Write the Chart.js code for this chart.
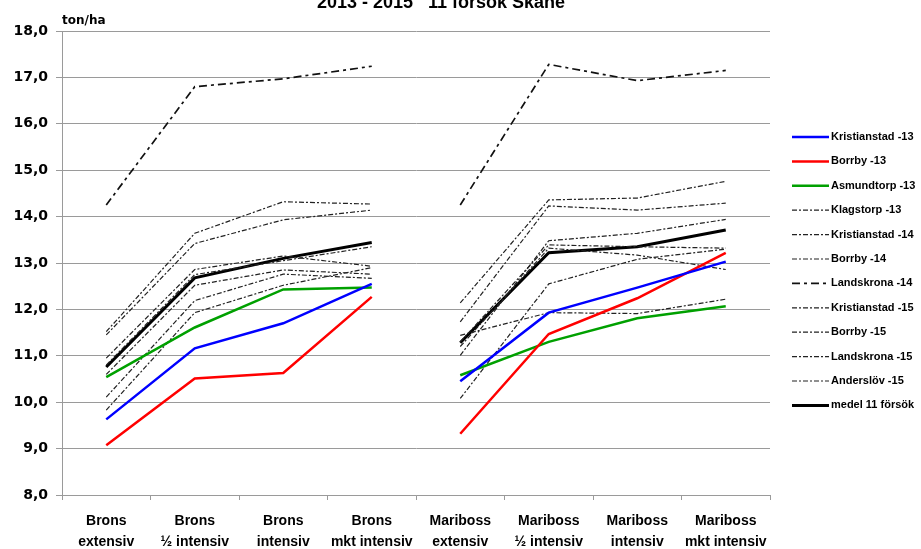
<!DOCTYPE html>
<html>
<head>
<meta charset="utf-8">
<script src="https://cdn.jsdelivr.net/npm/chart.js@4.4.0/dist/chart.umd.min.js"></script>
<style>
    html, body { margin: 0; padding: 0; background: #fff; }
    #wrap { position: relative; width: 921px; height: 549px; }
</style>
</head>
<body>
<div id="wrap"><canvas id="yieldChart"></canvas></div>
<script>
// Categories (two-line labels)
const categories = [
    ['Brons', 'extensiv'], ['Brons', '½ intensiv'], ['Brons', 'intensiv'], ['Brons', 'mkt intensiv'],
    ['Mariboss', 'extensiv'], ['Mariboss', '½ intensiv'], ['Mariboss', 'intensiv'], ['Mariboss', 'mkt intensiv']
];

// Yield, ton/ha
const kristianstad13 = [9.63, 11.16, 11.70, 12.55, 10.45, 11.93, 12.47, 13.03];
const borrby13 = [9.07, 10.51, 10.63, 12.27, 9.32, 11.47, 12.24, 13.22];
const asmundtorp13 = [10.54, 11.61, 12.43, 12.47, 10.58, 11.30, 11.81, 12.07];
const klagstorp13 = [11.52, 13.64, 14.32, 14.27, 12.14, 14.36, 14.40, 14.76];
const kristianstad14 = [11.45, 13.42, 13.93, 14.14, 11.73, 14.23, 14.14, 14.29];
const borrby14 = [10.95, 12.86, 13.15, 12.93, 11.01, 13.48, 13.64, 13.94];
const landskrona14 = [14.25, 16.80, 16.97, 17.24, 14.25, 17.28, 16.93, 17.15];
const kristianstad15 = [10.80, 12.75, 13.05, 13.35, 11.30, 13.39, 13.35, 13.32];
const borrby15 = [10.60, 12.52, 12.85, 12.76, 11.20, 13.32, 13.17, 12.86];
const landskrona15 = [10.11, 12.19, 12.76, 12.67, 10.08, 12.55, 13.08, 13.30];
const anderslov15 = [9.83, 11.93, 12.52, 12.90, 11.44, 11.93, 11.91, 12.22];
const medel = [10.76, 12.68, 13.10, 13.44, 11.28, 13.22, 13.35, 13.71];

// Y axis ticks
const yTicks = [8, 9, 10, 11, 12, 13, 14, 15, 16, 17, 18];

const chartTitle = '2013 - 2015   11 försök Skåne';
const unitLabel = 'ton/ha';

const dashStyle = [5, 2, 2, 2];

function series(label, data, color, width, dash) {
    return {
        label: label,
        data: data,
        borderColor: color,
        borderWidth: width,
        borderDash: dash || [],
        pointRadius: 0,
        tension: 0,
        fill: false,
        // no line between Brons and Mariboss
        segment: {
            borderColor: ctx => ctx.p0DataIndex === 3 ? 'rgba(0,0,0,0)' : undefined
        }
    };
}

// Title, unit text and legend drawn on the canvas
const extrasPlugin = {
    id: 'extras',
    afterDraw(chart) {
        const ctx = chart.ctx;
        ctx.save();
        ctx.fillStyle = '#000';

        ctx.font = 'bold 18px "Liberation Sans"';
        ctx.textAlign = 'center';
        ctx.textBaseline = 'alphabetic';
        ctx.fillText(chartTitle, 441, 8);

        ctx.font = 'bold 12px "DejaVu Sans"';
        ctx.textAlign = 'left';
        ctx.fillText(unitLabel, chart.chartArea.left, 24);

        // legend
        ctx.font = 'bold 11px "Liberation Sans"';
        ctx.textBaseline = 'middle';
        chart.data.datasets.forEach((ds, i) => {
            const y = 137 + i * 24.4;
            ctx.beginPath();
            ctx.strokeStyle = ds.borderColor;
            ctx.lineWidth = ds.borderWidth;
            ctx.setLineDash(ds.borderDash);
            ctx.moveTo(792, y);
            ctx.lineTo(829, y);
            ctx.stroke();
            ctx.setLineDash([]);
            ctx.fillText(ds.label, 831, y);
        });
        ctx.restore();
    }
};

new Chart(document.getElementById('yieldChart'), {
    type: 'line',
    data: {
        labels: categories,
        datasets: [
            series('Kristianstad -13', kristianstad13, '#0000ff', 2.5),
            series('Borrby -13', borrby13, '#ff0000', 2.5),
            series('Asmundtorp -13', asmundtorp13, '#00a000', 2.5),
            series('Klagstorp -13', klagstorp13, '#222', 1.2, dashStyle),
            series('Kristianstad -14', kristianstad14, '#222', 1.2, dashStyle),
            series('Borrby -14', borrby14, '#222', 1.2, dashStyle),
            series('Landskrona -14', landskrona14, '#111', 1.7, [8, 4, 3, 4]),
            series('Kristianstad -15', kristianstad15, '#222', 1.2, dashStyle),
            series('Borrby -15', borrby15, '#222', 1.2, dashStyle),
            series('Landskrona -15', landskrona15, '#222', 1.2, dashStyle),
            series('Anderslöv -15', anderslov15, '#222', 1.2, dashStyle),
            series('medel 11 försök', medel, '#000', 3)
        ]
    },
    plugins: [extrasPlugin],
    options: {
        responsive: true,
        maintainAspectRatio: false,
        animation: false,
        layout: {
            padding: { left: 0, right: 151, top: 31, bottom: 0 }
        },
        plugins: {
            legend: { display: false },
            title: { display: false },
            tooltip: { enabled: false }
        },
        scales: {
            x: {
                offset: true,
                afterFit: scale => { scale.height = 54; },
                grid: {
                    offset: true,
                    drawOnChartArea: false,
                    drawTicks: true,
                    tickLength: 5,
                    color: '#9a9a9a'
                },
                border: { color: '#9a9a9a', width: 1 },
                ticks: {
                    color: '#000',
                    padding: 11,
                    maxRotation: 0,
                    autoSkip: false,
                    font: { family: '"Liberation Sans"', size: 14, weight: 'bold', lineHeight: 1.5 }
                }
            },
            y: {
                min: yTicks[0],
                max: yTicks[yTicks.length - 1],
                afterFit: scale => { scale.width = 62; },
                afterBuildTicks: scale => { scale.ticks = yTicks.map(v => ({ value: v })); },
                grid: {
                    color: '#9a9a9a',
                    tickLength: 6
                },
                border: { color: '#9a9a9a', width: 1 },
                ticks: {
                    color: '#000',
                    padding: 8,
                    font: { family: '"DejaVu Sans"', size: 14, weight: 'bold' },
                    callback: value => value.toFixed(1).replace('.', ',')
                }
            }
        }
    }
});
</script>
</body>
</html>
